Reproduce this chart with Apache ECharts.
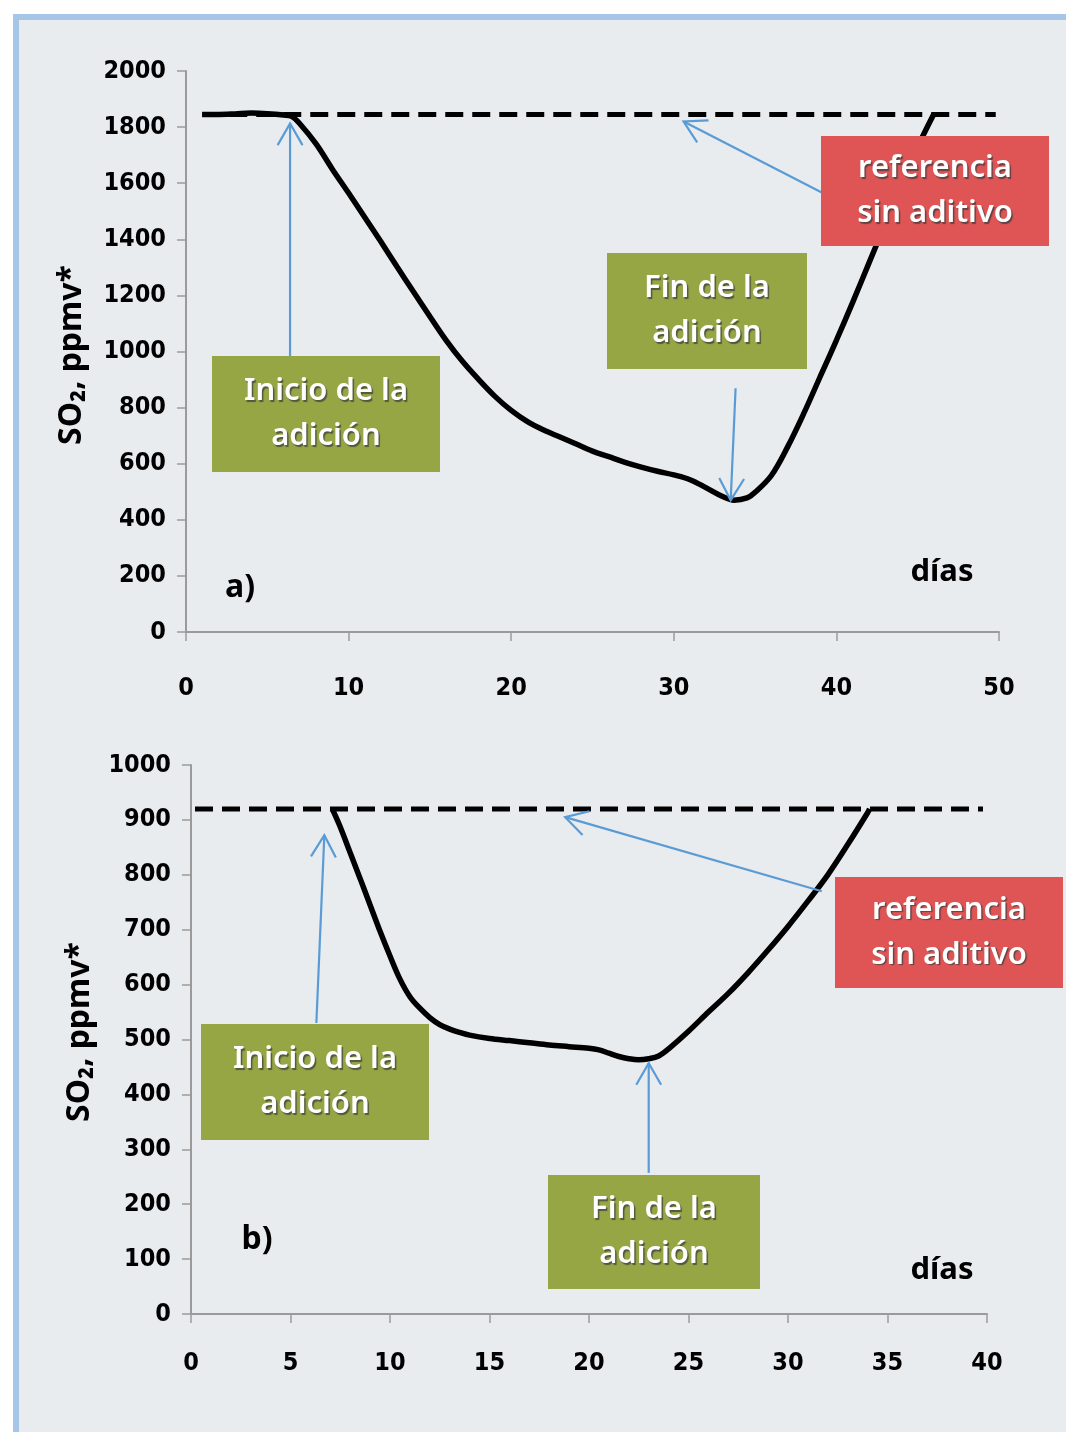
<!DOCTYPE html>
<html><head><meta charset="utf-8">
<script src="https://cdn.jsdelivr.net/npm/echarts@6/dist/echarts.min.js"></script>
<style>html,body{margin:0;padding:0;background:#fff}#c{width:1066px;height:1432px}</style>
</head><body><div id="c"></div>
<script>
// ---- Data: panel a ----
const aDays = [1,2,3,4,5,6,6.5,7,8,9,10,11,12,13,14,15,16,17,18,19,20,21,22,23,24,25,26,27,28,29,30,31,32,33,33.7,34.5,35,36,37,38,39,40,41,42,43,44,45,46];
const aSO2  = [1845,1845,1847,1850,1848,1843,1838,1812,1740,1650,1565,1478,1390,1300,1212,1125,1040,965,900,840,790,750,720,695,670,645,625,605,588,573,560,543,514,483,470,478,498,558,660,780,910,1040,1175,1315,1455,1595,1730,1848];
const aRefDays = [1,49.8];
const aRef = [1845,1845];
// ---- Data: panel b ----
const bDays = [7.1,7.5,8,8.5,9,9.5,10,10.5,11,11.5,12,12.5,13,13.5,14,15,16,17,18,19,20,20.5,21,21.5,22,22.5,23,23.5,24,25,26,27,28,29,30,31,32,33,34,34.1];
const bSO2  = [920,887,840,793,745,697,652,610,578,557,540,527,519,513,508,502,498,494,490,487,484,481,475,469,465,463,465,470,483,515,550,584,622,663,706,752,800,855,913,920];
const bRefDays = [0.2,39.8];
const bRef = [920,920];

const labels = {
  inicio: 'Inicio de la\nadición',
  fin: 'Fin de la\nadición',
  ref: 'referencia\nsin aditivo',
  yTitle: 'SO\u2082, ppmv*',
  xTitle: 'días'
};

const zip = (xs, ys) => xs.map((x, i) => [x, ys[i]]);
const tickFont = {fontFamily: "'Liberation Sans Narrow','DejaVu Sans Condensed',sans-serif", fontWeight: 'bold', fontSize: 25, color: '#000'};
const axisCol = '#9a9a9a';
const plain = v => String(v);

function xAxisCfg(gi, max, interval, margin) {
  return {type: 'value', gridIndex: gi, min: 0, max: max, interval: interval,
    axisLine: {show: true, lineStyle: {color: axisCol, width: 2}},
    axisTick: {show: true, length: 9, lineStyle: {color: axisCol, width: 1.5}},
    splitLine: {show: false},
    axisLabel: Object.assign({margin: margin, formatter: plain}, tickFont)};
}
function yAxisCfg(gi, max, interval) {
  return {type: 'value', gridIndex: gi, min: 0, max: max, interval: interval,
    axisLine: {show: true, lineStyle: {color: axisCol, width: 2}},
    axisTick: {show: true, length: 9, lineStyle: {color: axisCol, width: 1.5}},
    splitLine: {show: false},
    axisLabel: Object.assign({margin: 20, formatter: plain}, tickFont)};
}

const chart = echarts.init(document.getElementById('c'), null, {renderer: 'canvas'});
chart.setOption({
  animation: false,
  backgroundColor: '#ffffff',
  grid: [
    {left: 186, top: 71, width: 813, height: 561},
    {left: 191, top: 765, width: 796, height: 549}
  ],
  xAxis: [xAxisCfg(0, 50, 10, 44), xAxisCfg(1, 40, 5, 37)],
  yAxis: [yAxisCfg(0, 2000, 200), yAxisCfg(1, 1000, 100)],
  series: [
    {type: 'line', xAxisIndex: 0, yAxisIndex: 0, data: zip(aRefDays, aRef), symbol: 'none',
     lineStyle: {color: '#000', width: 5, type: [18, 9]}, z: 2},
    {type: 'line', xAxisIndex: 0, yAxisIndex: 0, data: zip(aDays, aSO2), symbol: 'none', smooth: 0.35,
     lineStyle: {color: '#000', width: 5.5}, z: 3},
    {type: 'line', xAxisIndex: 1, yAxisIndex: 1, data: zip(bRefDays, bRef), symbol: 'none',
     lineStyle: {color: '#000', width: 5, type: [18, 9]}, z: 2},
    {type: 'line', xAxisIndex: 1, yAxisIndex: 1, data: zip(bDays, bSO2), symbol: 'none', smooth: 0.35,
     lineStyle: {color: '#000', width: 5.5}, z: 3}
  ]
});

// ---- annotations ----
const GREEN = '#97a645', RED = '#df5556', BLUE = '#5b9bd5';
const boxFont = "'Noto Sans','Open Sans',sans-serif";
function box(x, y, w, h, color, text) {
  return {type: 'group', z: 100, children: [
    {type: 'rect', shape: {x: x, y: y, width: w, height: h}, style: {fill: color}, z: 100},
    {type: 'text', x: x + w / 2, y: y + h / 2, z: 101, style: {text: text, fill: '#fff', font: '600 31px ' + boxFont,
      align: 'center', verticalAlign: 'middle', lineHeight: 45,
      textShadowColor: 'rgba(60,60,60,0.75)', textShadowOffsetX: 1.5, textShadowOffsetY: 1.5, textShadowBlur: 1}}
  ]};
}
function arrow(gi, tailD, tipD) {
  const t = chart.convertToPixel({gridIndex: gi}, tailD);
  const p = chart.convertToPixel({gridIndex: gi}, tipD);
  const ang = Math.atan2(t[1] - p[1], t[0] - p[0]);
  const L = 25, half = 0.52;
  const a1 = [p[0] + L * Math.cos(ang + half), p[1] + L * Math.sin(ang + half)];
  const a2 = [p[0] + L * Math.cos(ang - half), p[1] + L * Math.sin(ang - half)];
  return {type: 'group', z: 90, children: [
    {type: 'line', shape: {x1: t[0], y1: t[1], x2: p[0], y2: p[1]}, style: {stroke: BLUE, lineWidth: 2.2}, z: 90},
    {type: 'polyline', shape: {points: [a1, p, a2]}, style: {stroke: BLUE, lineWidth: 2.2, fill: null}, z: 90}
  ]};
}
function txt(x, y, s, size, align) {
  return {type: 'text', x: x, y: y, z: 95, style: {text: s, fill: '#000', font: 'bold ' + size + 'px ' + boxFont,
    align: align || 'center', verticalAlign: 'middle'}};
}
function yTitle(x, y) {
  return {type: 'text', x: x, y: y, rotation: Math.PI / 2, z: 95,
   style: {text: labels.yTitle, fill: '#000', font: 'bold 32px ' + boxFont, align: 'center', verticalAlign: 'middle'}};
}

chart.setOption({graphic: [
  {type: 'rect', z: -10, shape: {x: 16, y: 17, width: 1100, height: 1500},
   style: {fill: '#e8ecef', stroke: '#a5c6e6', lineWidth: 6}},
  // panel a
  arrow(0, [6.4, 983], [6.4, 1813]),
  arrow(0, [33.8, 869], [33.5, 470]),
  arrow(0, [39.1, 1567], [30.6, 1820]),
  box(212, 356, 228, 116, GREEN, labels.inicio),
  box(607, 253, 200, 116, GREEN, labels.fin),
  box(821, 136, 228, 110, RED, labels.ref),
  txt(240, 588, 'a)', 32),
  txt(942, 572, labels.xTitle, 31),
  yTitle(72, 355),
  // panel b
  arrow(1, [6.3, 530], [6.7, 872]),
  arrow(1, [23.0, 257], [23.0, 457]),
  arrow(1, [31.7, 770], [18.8, 905]),
  box(201, 1024, 228, 116, GREEN, labels.inicio),
  box(548, 1175, 212, 114, GREEN, labels.fin),
  box(835, 877, 228, 111, RED, labels.ref),
  txt(257, 1240, 'b)', 32),
  txt(942, 1270, labels.xTitle, 31),
  yTitle(80, 1032)
]});
</script></body></html>
